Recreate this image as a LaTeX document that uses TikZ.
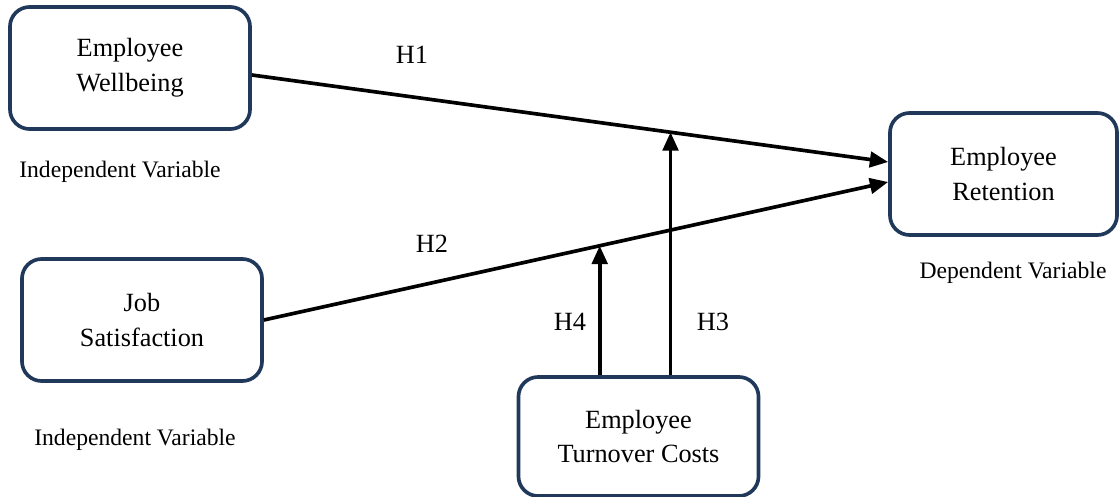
\documentclass[tikz,border=0pt]{standalone}
\usepackage{fontspec}
\setmainfont{Liberation Serif}
\usepackage{tikz}
\usetikzlibrary{arrows.meta,calc}
\definecolor{boxblue}{RGB}{32,56,90}
\tikzset{varnode/.style={draw=boxblue,line width=2.6pt,rounded corners=14pt,
    minimum width=6cm,minimum height=3.05cm,align=center,
    font=\fontsize{18.7}{24.8}\selectfont},
  kindlabel/.style={font=\fontsize{16.8}{20}\selectfont},
  hyplabel/.style={font=\fontsize{18.7}{22}\selectfont},
  link/.style={line width=2.6pt,-{Triangle[length=13pt,width=11pt]}}}

\begin{document}
\begin{tikzpicture}[x=0.025cm,y=-0.025cm]

\useasboundingbox (0,0) rectangle (1119,497);

  % nodes

  \node [style = varnode] (wb) at (130, 68) {Employee\\Wellbeing};
  \node [style = varnode] (js) at (142, 320) {Job\\Satisfaction};
  \node [style = varnode, minimum width=5.675cm] (ret) at (1003.5, 174) {Employee\\Retention};
  \node [style = varnode, minimum height=2.975cm] (tc) at (638.5, 436.5) {Employee\\Turnover Costs};

  \node [style = kindlabel] (wbkind) at (120, 172) {Independent Variable};
  \node [style = kindlabel] (jskind) at (135, 440) {Independent Variable};
  \node [style = kindlabel] (retkind) at (1013, 273) {Dependent Variable};

  \node [style = hyplabel] (h1) at (412, 55) {H1};
  \node [style = hyplabel] (h2) at (432, 244) {H2};
  \node [style = hyplabel] (h4) at (570, 322) {H4};
  \node [style = hyplabel] (h3) at (713, 322) {H3};

  % edges
  \coordinate (wbout) at ([yshift=-7*0.025cm]wb.east);
  \coordinate (jsout) at (js.east);
  \coordinate (retin1) at ([yshift=12*0.025cm]ret.west);
  \coordinate (retin2) at ([yshift=-8*0.025cm]ret.west);
  \draw [style = link] (wbout) to (retin1);
  \draw [style = link] (jsout) to (retin2);

  \coordinate (m1) at ($(wbout)!0.658!(retin1)$);
  \coordinate (m2) at ($(jsout)!0.538!(retin2)$);
  \draw [style = link] (m1 |- tc.north) to (m1);
  \draw [style = link] (m2 |- tc.north) to (m2);

\end{tikzpicture}
\end{document}
